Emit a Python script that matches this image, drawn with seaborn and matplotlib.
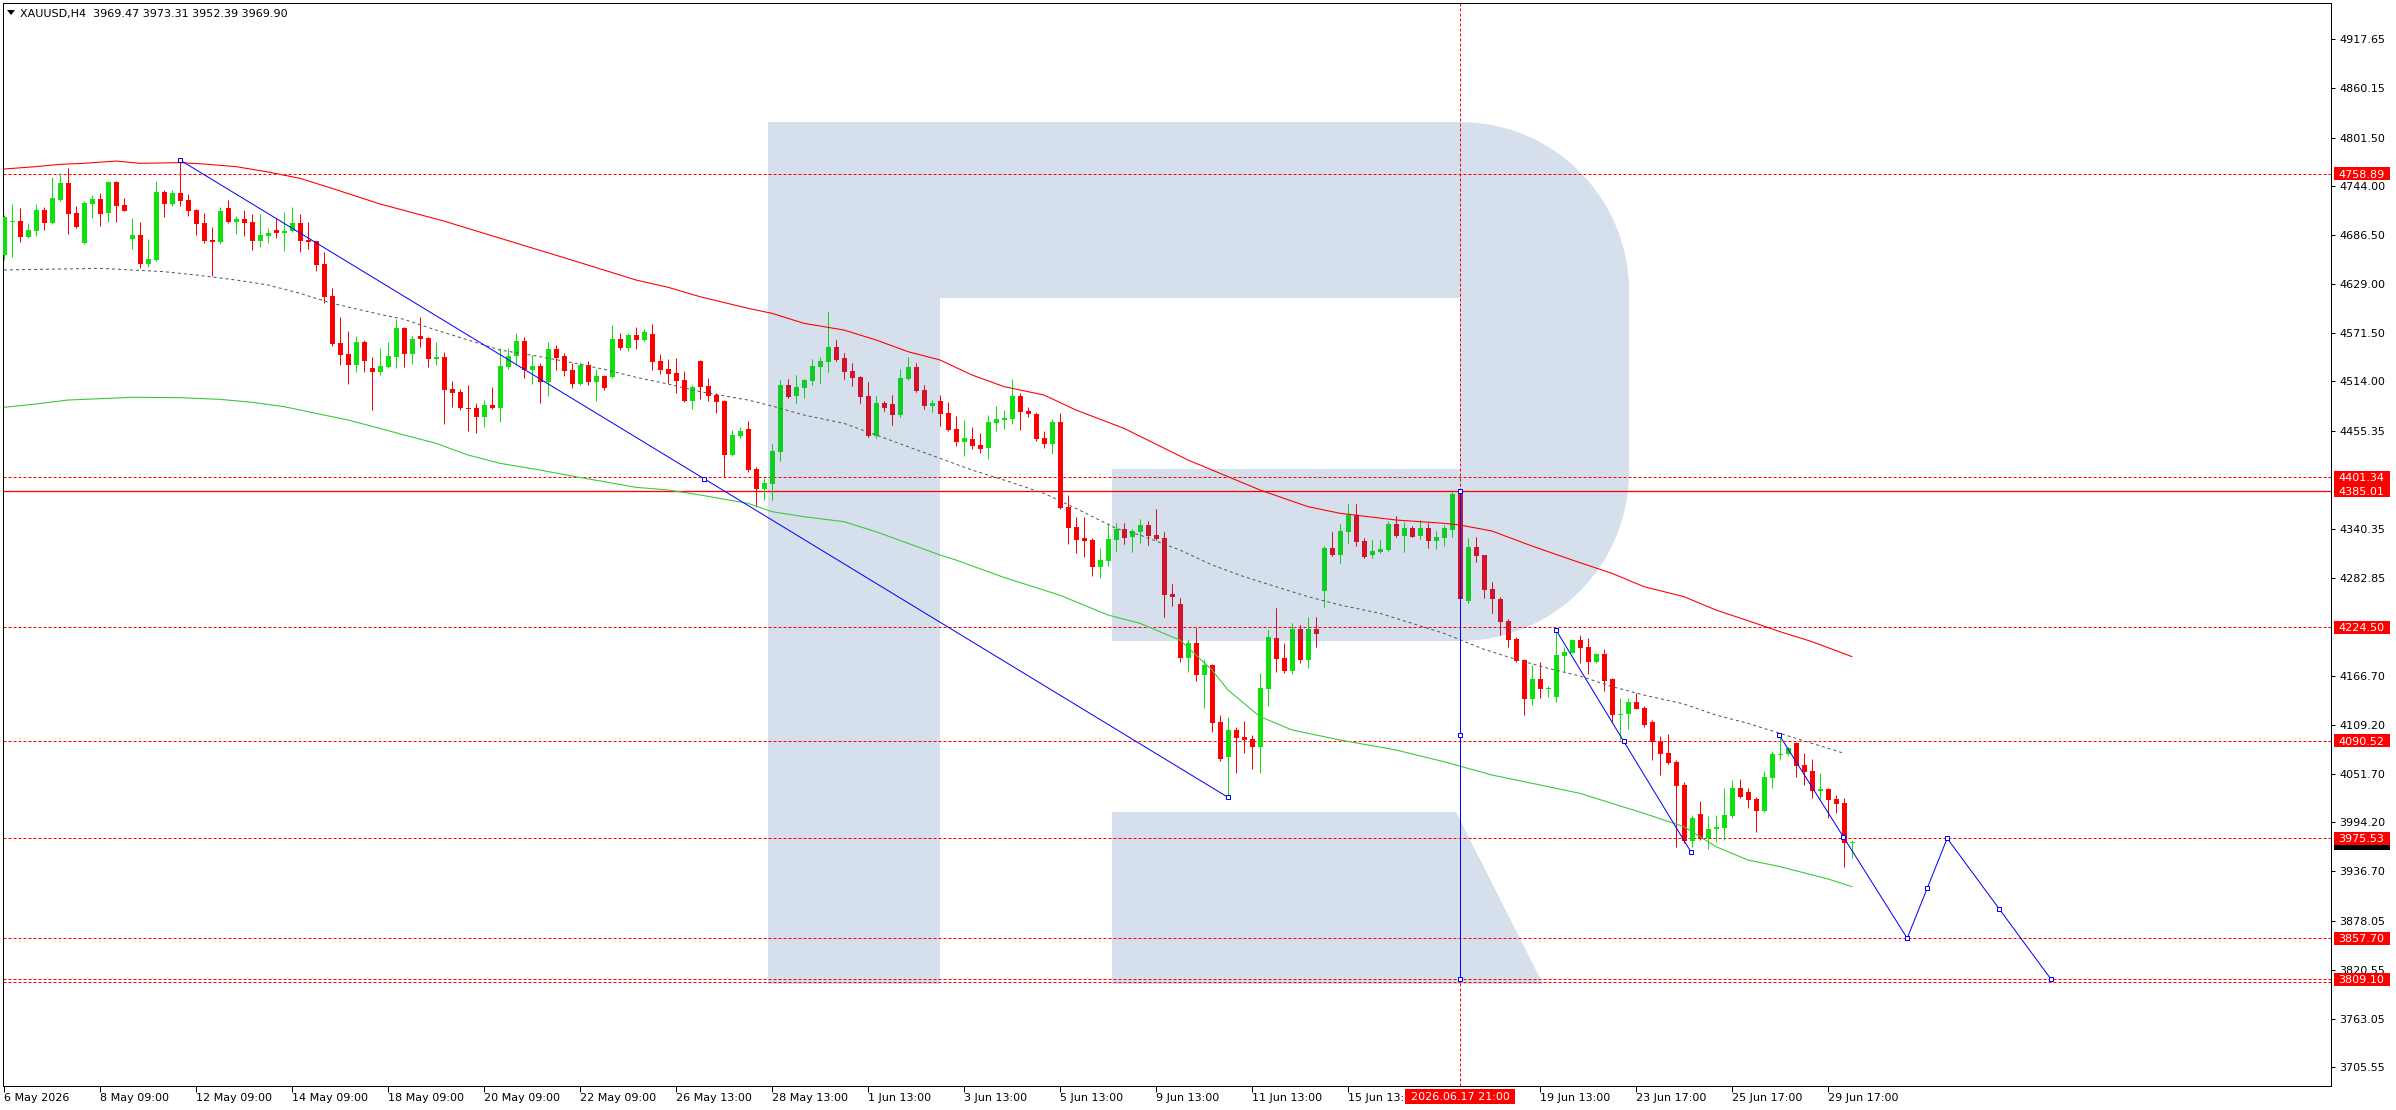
import numpy as np
import matplotlib
matplotlib.use("Agg")
import matplotlib.pyplot as plt
import seaborn as sns
from matplotlib.patches import Rectangle, Polygon, PathPatch
from matplotlib.path import Path

# XAUUSD H4 candles (bar 0 = 6 May 2026)
opens = [
    4663.0, 4702.5, 4703.1, 4684.6, 4691.7, 4716.1, 4701.1, 4727.9, 4747.9, 4712.5,
    4677.2, 4723.5, 4729.0, 4712.9, 4749.1, 4722.0, 4682.3, 4686.6, 4652.8, 4657.1,
    4737.3, 4723.5, 4735.7, 4727.9, 4716.1, 4700.8, 4681.1, 4678.8, 4718.4, 4702.3,
    4705.5, 4701.9, 4679.9, 4685.8, 4692.5, 4689.4, 4690.9, 4700.8, 4681.1, 4679.5,
    4652.4, 4614.7, 4559.3, 4546.3, 4533.8, 4560.5, 4529.8, 4525.6, 4531.1, 4542.8,
    4577.0, 4546.8, 4567.6, 4565.2, 4540.9, 4542.8, 4505.1, 4501.6, 4483.1, 4483.1,
    4472.5, 4486.3, 4483.1, 4531.1, 4544.0, 4561.7, 4527.5, 4532.2, 4513.8, 4552.3,
    4544.0, 4527.5, 4511.4, 4533.4, 4513.8, 4520.4, 4519.7, 4564.1, 4553.4, 4568.8,
    4562.9, 4570.0, 4538.1, 4528.7, 4524.0, 4515.7, 4491.4, 4538.1, 4508.7, 4498.0,
    4491.0, 4427.7, 4450.1, 4458.0, 4410.8, 4387.6, 4393.5, 4431.2, 4509.8, 4497.2,
    4506.7, 4514.9, 4531.4, 4537.3, 4554.6, 4541.6, 4526.3, 4519.2, 4496.8, 4450.1,
    4488.6, 4487.4, 4474.4, 4516.9, 4531.0, 4503.9, 4485.5, 4491.0, 4476.8, 4457.9,
    4443.0, 4446.2, 4439.1, 4435.9, 4465.4, 4468.9, 4470.1, 4496.8, 4479.2, 4475.6,
    4447.3, 4440.7, 4466.2, 4366.0, 4342.4, 4329.5, 4327.1, 4295.0, 4302.0, 4327.1,
    4340.1, 4331.0, 4336.9, 4344.8, 4333.0, 4329.5, 4263.5, 4251.7, 4188.4, 4205.7,
    4168.4, 4179.8, 4112.6, 4071.7, 4103.2, 4094.9, 4092.5, 4083.5, 4151.9, 4211.6,
    4188.0, 4172.7, 4222.2, 4185.7, 4222.2, 4267.4, 4317.7, 4309.4, 4336.9, 4356.6,
    4325.9, 4309.4, 4313.4, 4315.3, 4346.0, 4331.8, 4341.2, 4331.8, 4341.2, 4325.9,
    4329.9, 4338.9, 4381.3, 4255.6, 4318.9, 4309.4, 4269.0, 4257.6, 4231.7, 4210.5,
    4185.7, 4140.1, 4163.3, 4151.9, 4142.5, 4190.8, 4194.3, 4209.3, 4201.0, 4183.7,
    4192.8, 4163.3, 4121.2, 4122.4, 4136.2, 4129.1, 4112.6, 4090.6, 4076.1, 4065.9,
    4038.4, 3972.8, 4004.2, 3976.3, 3986.5, 3988.1, 4002.2, 4034.8, 4030.1, 4021.8,
    4007.7, 4047.0, 4074.1, 4074.9, 4087.9, 4061.9, 4054.9, 4031.7, 4033.6, 4021.8,
    4017.2, 3969.47,
]
highs = [
    4710.2, 4723.2, 4718.0, 4700.4, 4723.2, 4719.2, 4754.6, 4759.3, 4765.2, 4720.8,
    4726.3, 4733.8, 4736.5, 4750.0, 4750.3, 4730.2, 4706.6, 4701.9, 4681.9, 4750.3,
    4739.7, 4739.7, 4775.0, 4734.9, 4717.0, 4712.5, 4696.0, 4719.2, 4727.9, 4709.4,
    4716.1, 4711.4, 4711.4, 4694.9, 4706.6, 4714.1, 4719.2, 4711.4, 4702.3, 4680.0,
    4667.0, 4624.1, 4590.0, 4573.5, 4567.2, 4562.8, 4543.2, 4553.4, 4560.9, 4587.2,
    4578.0, 4567.6, 4590.4, 4566.0, 4560.5, 4549.1, 4514.6, 4505.5, 4509.8, 4489.0,
    4492.2, 4507.9, 4553.4, 4553.4, 4571.5, 4566.8, 4544.8, 4536.2, 4560.9, 4557.0,
    4547.2, 4535.4, 4537.3, 4538.5, 4528.7, 4521.6, 4580.6, 4571.5, 4570.7, 4577.8,
    4575.5, 4581.7, 4546.4, 4540.5, 4541.7, 4526.3, 4510.2, 4539.3, 4518.1, 4500.8,
    4492.0, 4456.8, 4460.3, 4467.4, 4413.2, 4400.2, 4440.3, 4515.7, 4516.9, 4521.6,
    4516.9, 4540.5, 4543.2, 4595.9, 4562.9, 4547.5, 4535.7, 4520.4, 4513.3, 4496.8,
    4491.0, 4498.0, 4528.7, 4542.8, 4535.7, 4509.8, 4492.1, 4498.0, 4490.2, 4473.3,
    4468.6, 4460.7, 4453.6, 4474.4, 4485.1, 4480.3, 4516.9, 4500.0, 4483.9, 4478.4,
    4456.0, 4469.7, 4476.8, 4380.2, 4354.2, 4354.2, 4330.0, 4317.3, 4347.2, 4346.7,
    4347.1, 4340.1, 4351.9, 4349.5, 4363.6, 4336.5, 4275.2, 4259.1, 4209.2, 4223.8,
    4186.8, 4180.9, 4120.8, 4118.5, 4106.7, 4113.8, 4097.3, 4170.3, 4221.0, 4247.0,
    4205.7, 4229.3, 4227.3, 4236.3, 4236.3, 4320.0, 4336.9, 4346.0, 4369.5, 4369.5,
    4329.5, 4327.1, 4327.1, 4349.5, 4355.4, 4348.3, 4343.6, 4350.7, 4347.5, 4337.7,
    4344.8, 4383.7, 4385.0, 4329.5, 4330.6, 4310.0, 4277.6, 4259.6, 4233.6, 4212.4,
    4186.9, 4179.8, 4183.3, 4155.0, 4221.1, 4201.0, 4210.5, 4215.5, 4211.6, 4193.9,
    4198.6, 4164.9, 4140.9, 4140.9, 4147.2, 4131.5, 4115.0, 4096.5, 4098.9, 4068.2,
    4041.9, 4003.0, 4019.5, 4001.8, 4003.0, 4034.8, 4044.6, 4045.4, 4034.8, 4024.2,
    4055.2, 4078.4, 4096.0, 4083.5, 4089.0, 4076.1, 4069.0, 4052.9, 4034.8, 4026.6,
    4023.0, 3973.31,
]
lows = [
    4657.1, 4661.1, 4678.8, 4682.7, 4685.4, 4692.5, 4700.0, 4727.1, 4688.2, 4694.9,
    4676.4, 4706.6, 4697.2, 4702.3, 4702.3, 4714.5, 4670.1, 4648.1, 4649.3, 4656.4,
    4708.2, 4721.2, 4721.2, 4709.4, 4687.0, 4677.6, 4638.3, 4676.4, 4701.1, 4688.2,
    4685.8, 4669.3, 4672.5, 4677.6, 4683.1, 4668.1, 4690.5, 4667.0, 4670.1, 4644.6,
    4606.8, 4555.8, 4533.0, 4511.4, 4525.5, 4525.5, 4480.7, 4521.6, 4530.3, 4530.3,
    4531.4, 4535.0, 4555.0, 4531.4, 4533.8, 4463.9, 4484.3, 4480.4, 4456.0, 4453.6,
    4460.7, 4481.9, 4466.6, 4529.1, 4533.4, 4518.5, 4511.0, 4488.6, 4496.9, 4527.5,
    4520.8, 4506.7, 4509.8, 4509.8, 4491.0, 4503.9, 4518.5, 4551.1, 4550.3, 4552.3,
    4561.7, 4527.5, 4522.8, 4511.8, 4500.8, 4490.2, 4481.9, 4493.7, 4491.4, 4476.4,
    4401.8, 4426.5, 4447.8, 4407.3, 4366.4, 4374.7, 4374.7, 4420.6, 4494.9, 4489.0,
    4494.9, 4510.2, 4512.6, 4525.5, 4538.5, 4517.3, 4509.0, 4489.0, 4448.9, 4447.7,
    4479.6, 4462.7, 4472.5, 4516.0, 4502.0, 4481.9, 4478.4, 4461.9, 4456.0, 4438.3,
    4426.5, 4434.8, 4429.7, 4423.0, 4456.0, 4457.9, 4464.2, 4457.2, 4472.5, 4444.2,
    4435.9, 4428.9, 4364.0, 4322.8, 4312.2, 4307.5, 4285.0, 4282.0, 4296.0, 4314.5,
    4322.8, 4313.4, 4324.0, 4321.6, 4327.1, 4236.7, 4249.7, 4183.7, 4171.9, 4161.3,
    4129.5, 4100.8, 4067.0, 4023.8, 4052.9, 4076.4, 4057.6, 4052.9, 4131.8, 4171.9,
    4170.3, 4169.6, 4182.5, 4176.6, 4201.4, 4248.5, 4308.6, 4300.4, 4323.6, 4320.4,
    4306.3, 4306.3, 4312.2, 4314.5, 4331.0, 4313.4, 4330.2, 4328.7, 4318.1, 4316.9,
    4320.4, 4331.0, 4257.0, 4253.2, 4301.6, 4259.1, 4240.7, 4214.8, 4201.4, 4183.7,
    4121.2, 4133.0, 4141.3, 4142.5, 4136.6, 4171.9, 4193.5, 4182.5, 4169.6, 4182.5,
    4149.5, 4113.0, 4091.4, 4104.7, 4127.5, 4107.1, 4068.2, 4050.5, 4063.5, 3964.9,
    3970.4, 3964.9, 3974.0, 3962.5, 3971.6, 3973.9, 3999.1, 4023.0, 4011.2, 3983.3,
    4006.5, 4034.8, 4067.9, 4073.5, 4048.2, 4038.8, 4023.4, 4022.2, 3999.5, 4005.4,
    3942.1, 3952.39,
]
closes = [
    4708.2, 4703.5, 4684.6, 4692.5, 4716.1, 4701.1, 4730.2, 4747.9, 4711.8, 4696.0,
    4724.3, 4729.0, 4711.8, 4749.1, 4721.2, 4715.3, 4686.6, 4652.8, 4658.3, 4737.3,
    4723.5, 4735.7, 4727.1, 4715.3, 4700.0, 4679.9, 4678.8, 4714.9, 4702.3, 4705.5,
    4701.1, 4679.9, 4686.6, 4689.0, 4689.0, 4691.3, 4700.8, 4679.9, 4678.8, 4651.6,
    4613.9, 4558.1, 4545.6, 4533.8, 4560.5, 4538.5, 4525.5, 4532.2, 4544.0, 4577.0,
    4546.8, 4563.7, 4564.1, 4540.9, 4542.8, 4504.3, 4500.8, 4482.7, 4481.9, 4472.5,
    4486.3, 4482.7, 4532.2, 4544.0, 4561.7, 4527.5, 4532.2, 4513.8, 4552.3, 4542.1,
    4526.7, 4511.0, 4533.4, 4513.8, 4520.4, 4506.3, 4564.1, 4553.4, 4568.8, 4562.9,
    4572.3, 4537.3, 4527.5, 4522.8, 4514.6, 4491.4, 4507.5, 4507.9, 4497.3, 4490.2,
    4427.7, 4450.9, 4455.6, 4409.6, 4387.6, 4394.3, 4432.0, 4509.8, 4496.1, 4507.1,
    4515.7, 4532.2, 4538.1, 4554.6, 4539.3, 4525.5, 4518.5, 4496.1, 4449.7, 4488.6,
    4483.1, 4474.8, 4518.1, 4531.0, 4503.1, 4485.1, 4488.6, 4476.0, 4457.2, 4443.0,
    4447.3, 4438.3, 4434.8, 4466.2, 4469.7, 4470.9, 4496.8, 4478.4, 4476.0, 4446.6,
    4440.7, 4466.2, 4365.2, 4341.6, 4327.5, 4326.3, 4295.0, 4303.0, 4328.3, 4340.1,
    4329.9, 4337.7, 4344.8, 4331.8, 4328.3, 4262.3, 4260.3, 4188.4, 4205.7, 4168.4,
    4179.8, 4111.4, 4069.4, 4103.2, 4094.1, 4091.8, 4083.5, 4152.7, 4212.8, 4187.2,
    4172.7, 4222.2, 4185.7, 4222.2, 4216.7, 4317.7, 4309.4, 4337.7, 4356.6, 4325.1,
    4307.5, 4314.1, 4316.5, 4346.0, 4331.8, 4341.2, 4331.0, 4341.2, 4325.9, 4330.6,
    4341.2, 4381.3, 4258.0, 4318.9, 4308.6, 4268.6, 4257.2, 4230.9, 4209.7, 4184.9,
    4140.1, 4163.3, 4151.9, 4153.1, 4191.6, 4195.1, 4209.7, 4200.2, 4183.7, 4192.8,
    4161.3, 4121.2, 4122.4, 4136.2, 4128.3, 4109.5, 4089.4, 4075.3, 4064.7, 4037.6,
    3972.8, 3999.5, 3975.1, 3986.5, 3988.9, 4003.0, 4034.8, 4024.2, 4020.7, 4007.7,
    4047.8, 4074.9, 4074.9, 4082.0, 4061.1, 4053.7, 4031.7, 4033.6, 4020.7, 4016.4,
    3969.5, 3969.90,
]

# moving averages, sampled along the lines (bar index, price)
red_ma_idx = [0, 4, 7, 10, 14, 17, 22, 25, 29, 33, 37, 41, 47, 55, 63, 71, 79, 83, 87, 93,
              96, 100, 105, 109, 113, 117, 121, 125, 130, 134, 140, 148, 153, 157, 163, 167,
              174, 180, 182, 186, 191, 196, 201, 205, 210, 214, 218, 222, 226, 231]
red_ma_val = [4764.4, 4767.2, 4769.9, 4771.1, 4773.8, 4771.1, 4771.9, 4770.3, 4767.2, 4760.9,
              4753.4, 4741.6, 4723.2, 4703.0, 4680.0, 4657.0, 4633.6, 4625.0, 4613.9, 4600.2,
              4594.3, 4582.5, 4574.6, 4562.9, 4549.1, 4539.3, 4521.6, 4507.9, 4498.0, 4480.3,
              4458.7, 4421.4, 4401.8, 4386.1, 4366.4, 4358.6, 4350.7, 4346.8, 4344.8, 4337.7,
              4320.0, 4303.6, 4287.8, 4272.1, 4260.3, 4244.6, 4232.0, 4219.1, 4207.3, 4189.6]
green_ma_idx = [0, 4, 8, 12, 16, 22, 27, 31, 35, 39, 43, 47, 50, 54, 58, 62, 67, 71, 75, 79,
                83, 87, 93, 96, 100, 105, 109, 113, 117, 119, 125, 132, 138, 142, 147, 151,
                153, 157, 161, 167, 174, 180, 186, 193, 197, 201, 205, 210, 214, 218, 222, 228, 231]
green_ma_val = [4483.5, 4487.4, 4492.1, 4493.7, 4495.3, 4494.9, 4492.9, 4489.4, 4484.3, 4476.4,
                4468.6, 4458.7, 4450.9, 4441.1, 4427.3, 4417.5, 4409.6, 4402.5, 4395.9, 4389.2,
                4386.1, 4380.2, 4370.3, 4360.5, 4354.6, 4348.7, 4336.9, 4323.2, 4309.4, 4303.5,
                4283.0, 4262.0, 4238.7, 4228.9, 4209.2, 4173.9, 4150.3, 4118.9, 4103.2, 4091.4,
                4079.6, 4065.8, 4050.1, 4036.4, 4028.5, 4016.7, 4004.9, 3989.2, 3965.6, 3949.9,
                3942.1, 3927.6, 3918.5]
grey_ma_idx = [0, 12, 16, 20, 24, 29, 33, 37, 41, 47, 50, 54, 58, 62, 67, 71, 75, 79, 83, 87,
               93, 96, 100, 105, 109, 113, 117, 121, 125, 130, 134, 139, 142, 147, 151, 155,
               159, 163, 167, 172, 176, 180, 185, 189, 193, 197, 201, 205, 210, 214, 218, 222,
               226, 230]
grey_ma_val = [4645.4, 4647.3, 4645.4, 4643.4, 4639.5, 4633.6, 4627.7, 4617.9, 4606.1, 4593.1,
               4587.2, 4574.6, 4562.9, 4551.1, 4543.2, 4536.2, 4528.3, 4518.9, 4511.0, 4502.0,
               4492.1, 4485.1, 4474.4, 4464.6, 4450.9, 4437.1, 4423.4, 4409.6, 4397.8, 4382.1,
               4364.4, 4340.9, 4333.0, 4315.3, 4297.7, 4283.9, 4272.1, 4260.3, 4250.5, 4240.7,
               4228.9, 4217.1, 4198.3, 4186.4, 4175.9, 4166.8, 4154.3, 4144.4, 4133.8, 4120.8,
               4111.0, 4099.2, 4087.5, 4075.7]

# blue trend lines / forecast (start bar, start price, end bar, end price)
trend_x0 = [22, 182, 194, 221.9, 237.9, 242.9]
trend_y0 = [4775.0, 4385.0, 4221.1, 4097.3, 3857.7, 3975.5]
trend_x1 = [153, 182, 210.9, 237.9, 242.9, 255.9]
trend_y1 = [4023.8, 3809.1, 3959.0, 3857.7, 3975.5, 3809.1]

dotted_levels = [4758.89, 4401.34, 4224.50, 4090.52, 3975.53, 3857.70, 3809.10, 3806.00]
solid_level = 4385.01
label_levels = [4758.89, 4401.34, 4385.01, 4224.50, 4090.52, 3975.53, 3857.70, 3809.10]
last_price = 3969.90
cursor_bar = 182
cursor_text = "2026.06.17 21:00"
header = "XAUUSD,H4  3969.47 3973.31 3952.39 3969.90"

time_idx = [0, 12, 24, 36, 48, 60, 72, 84, 96, 108, 120, 132, 144, 156, 168, 192, 204, 216, 228]
time_labels = ["6 May 2026", "8 May 09:00", "12 May 09:00", "14 May 09:00", "18 May 09:00",
               "20 May 09:00", "22 May 09:00", "26 May 13:00", "28 May 13:00", "1 Jun 13:00",
               "3 Jun 13:00", "5 Jun 13:00", "9 Jun 13:00", "11 Jun 13:00", "15 Jun 13:00",
               "19 Jun 13:00", "23 Jun 17:00", "25 Jun 17:00", "29 Jun 17:00"]
price_ticks = [4917.65, 4860.15, 4801.50, 4744.00, 4686.50, 4629.00, 4571.50, 4514.00, 4455.35,
               4340.35, 4282.85, 4166.70, 4109.20, 4051.70, 3994.20, 3936.70, 3878.05, 3820.55,
               3763.05, 3705.55]

# ---- layout in screen pixels ----
W, H = 2396, 1110
AX_L, AX_R, AX_T, AX_B = 3, 2331, 3, 1086
PX = 0.72                 # one pixel in points at 100 dpi
PPP = 1.1787              # price per pixel
REF_Y, REF_P = 39, 4917.65

BULL, BEAR = "#10e010", "#ff0000"
BULL_IN, BEAR_IN = "#12cc26", "#d2142a"
LOGO = "#d5e0ec"

sns.set_theme(style="white")
plt.rcParams["font.family"] = ["DejaVu Sans"]
plt.rcParams["lines.scale_dashes"] = False

fig = plt.figure(figsize=(W / 100, H / 100), dpi=100)
ax = fig.add_axes([AX_L / W, (H - AX_B) / H, (AX_R - AX_L) / W, (AX_B - AX_T) / H])
ax.set_xlim((AX_L - 4) / 8, (AX_R - 4) / 8)
ax.set_ylim(REF_P - (AX_B - REF_Y) * PPP, REF_P + (REF_Y - AX_T) * PPP)


def axfrac(px, py):
    return ((px - AX_L) / (AX_R - AX_L), (AX_B - py) / (AX_B - AX_T))


# watermark "R" (pixel outline)
t = np.linspace(0, np.pi / 2, 30)
pieces = [
    [(768, 122), (940, 122), (940, 984), (768, 984)],
    [(940, 122), (1460, 122), (1460, 298), (940, 298)],
    [(1460 + 169 * np.sin(a), 291 - 169 * np.cos(a)) for a in t]
    + [(1460 + 169 * np.cos(a), 472 + 169 * np.sin(a)) for a in t],
    [(1112, 469), (1460, 469), (1460, 641), (1112, 641)],
    [(1112, 812), (1456, 812), (1543, 984), (1112, 984)],
]
verts, codes = [], []
for pc in pieces:
    pts = [axfrac(x, y) for x, y in pc]
    verts += pts + [pts[0]]
    codes += [Path.MOVETO] + [Path.LINETO] * (len(pts) - 1) + [Path.CLOSEPOLY]
logo = PathPatch(Path(verts, codes), facecolor=LOGO, edgecolor="none",
                 transform=ax.transAxes, zorder=1)
ax.add_patch(logo)

# levels
dash = (0, (3 * PX, 2 * PX))
for lv in dotted_levels:
    ax.axhline(lv, color="#ff0000", lw=PX, ls=dash, zorder=2)
ax.axhline(solid_level, color="#ff0000", lw=1.3 * PX, zorder=2)
ax.axvline(cursor_bar, color="#ff0000", lw=PX, ls=dash, zorder=2)

# candles
o, h, l, c = (np.array(v) for v in (opens, highs, lows, closes))
idx = np.arange(len(o))
up = c >= o
lo = np.minimum(o, c)
hgt = np.maximum(np.abs(c - o), PPP)
for cols, clip in ((np.where(up, BULL, BEAR), None), (np.where(up, BULL_IN, BEAR_IN), logo)):
    wl = ax.vlines(idx, l, h, colors=list(cols), linewidth=PX, zorder=3)
    bars = ax.bar(idx, hgt, bottom=lo, width=0.625, color=list(cols), linewidth=0, zorder=3)
    if clip is not None:
        wl.set_clip_path(clip)
        for b in bars:
            b.set_clip_path(clip)

# moving averages
sns.lineplot(x=red_ma_idx, y=red_ma_val, ax=ax, color="#ff0000", linewidth=1.1 * PX,
             estimator=None, sort=False, zorder=4)
sns.lineplot(x=green_ma_idx, y=green_ma_val, ax=ax, color="#3cc83c", linewidth=1.1 * PX,
             estimator=None, sort=False, zorder=4)
sns.lineplot(x=grey_ma_idx, y=grey_ma_val, ax=ax, color="#555555", linewidth=PX,
             estimator=None, sort=False, zorder=4, linestyle=(0, (3 * PX, 3 * PX)))

# trend lines with anchor squares
for x0, y0, x1, y1 in zip(trend_x0, trend_y0, trend_x1, trend_y1):
    ax.plot([x0, (x0 + x1) / 2, x1], [y0, (y0 + y1) / 2, y1], color="#0000ff", lw=PX,
            marker="s", ms=3.3, mfc="white", mec="#0000ff", mew=PX, zorder=5)

# axes styling
for sp in ax.spines.values():
    sp.set_color("black")
    sp.set_linewidth(PX)
ax.set_xticks(time_idx)
ax.set_xticklabels(time_labels, ha="left")
ax.set_yticks(price_ticks)
ax.set_yticklabels([f"{v:.2f}" for v in price_ticks])
ax.tick_params(axis="x", bottom=True, direction="out", length=6 * PX, width=PX,
               pad=1, labelsize=8, colors="black")
ax.tick_params(axis="y", left=False, right=True, labelleft=False, labelright=True,
               direction="out", length=4 * PX, width=PX, pad=4 * PX, labelsize=8, colors="black")
ax.set_xlabel("")
ax.set_ylabel("")
ax.grid(False)

# price labels on the right scale (last price box sits under the 3975.53 one)
ytr = ax.get_yaxis_transform()
bx0 = 1 + 3 / (AX_R - AX_L)
bw = 56 / (AX_R - AX_L)
tx0 = 1 + 7 / (AX_R - AX_L)
ax.add_patch(Rectangle((bx0, last_price - 6.5 * PPP), bw, 13 * PPP, transform=ytr,
                       facecolor="black", edgecolor="none", clip_on=False, zorder=10))
for p in label_levels:
    ax.add_patch(Rectangle((bx0, p - 6.5 * PPP), bw, 13 * PPP, transform=ytr, facecolor="#ff0000",
                           edgecolor="none", clip_on=False, zorder=10))
    ax.text(tx0, p, f"{p:.2f}", transform=ytr, color="white", fontsize=8, ha="left",
            va="center_baseline", clip_on=False, zorder=11)

# cursor time label on the bottom scale
xtr = ax.get_xaxis_transform()
ax.add_patch(Rectangle((cursor_bar - 55 / 8, -18 / (AX_B - AX_T)), 110 / 8, 15 / (AX_B - AX_T),
                       transform=xtr, facecolor="#ff0000", edgecolor="none",
                       clip_on=False, zorder=10))
ax.text(cursor_bar, -10.5 / (AX_B - AX_T), cursor_text, transform=xtr, color="white",
        fontsize=8, ha="center", va="center_baseline", clip_on=False, zorder=11)

# header
fig.text(20 / W, 1 - 13 / H, header, fontsize=8, color="black", ha="left", va="center_baseline")
fig.add_artist(Polygon([(7 / W, 1 - 10 / H), (15 / W, 1 - 10 / H), (11 / W, 1 - 15 / H)],
                       closed=True, transform=fig.transFigure, facecolor="black",
                       edgecolor="none"))

fig.savefig("out.png", dpi=100)
